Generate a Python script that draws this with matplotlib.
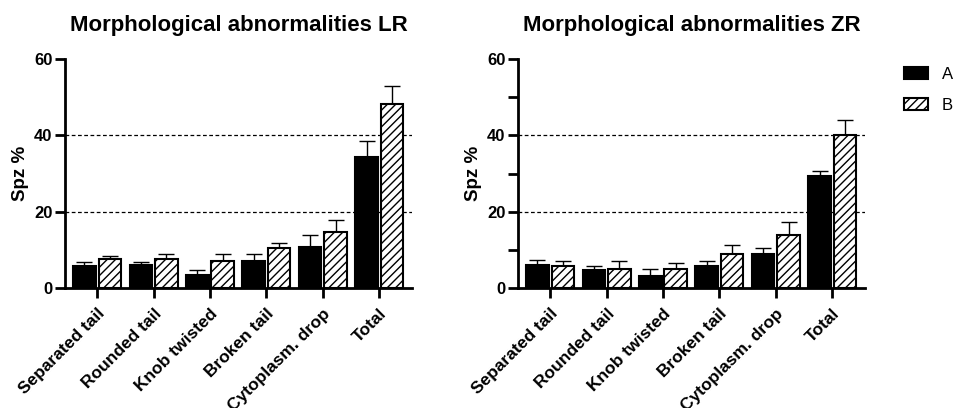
import matplotlib.pyplot as plt
import matplotlib.patches as mpatches
import numpy as np

plt.rcParams['font.family'] = ['Liberation Sans', 'DejaVu Sans']
plt.rcParams['hatch.linewidth'] = 1.0

categorias = ["Separated tail", "Rounded tail", "Knob twisted", "Broken tail",
              "Cytoplasm. drop", "Total"]

# Panel LR
lr_a = [5.7, 6.1, 3.4, 7.1, 10.8, 34.3]
lr_a_err = [1.1, 0.7, 1.3, 1.8, 3.0, 4.2]
lr_b = [7.5, 7.5, 7.1, 10.4, 14.7, 48.2]
lr_b_err = [0.9, 1.4, 1.8, 1.5, 3.1, 4.8]

# Panel ZR
zr_a = [6.1, 4.8, 3.1, 5.9, 8.9, 29.5]
zr_a_err = [1.3, 1.1, 1.9, 1.2, 1.6, 1.3]
zr_b = [5.7, 5.1, 5.1, 9.0, 13.8, 40.0]
zr_b_err = [1.4, 2.0, 1.5, 2.4, 3.4, 4.1]

titulos = ["Morphological abnormalities LR", "Morphological abnormalities ZR"]

fig = plt.figure(figsize=(9.57, 4.08), dpi=100)
ax1 = fig.add_axes([0.0679, 0.294, 0.3626, 0.561])
ax2 = fig.add_axes([0.5413, 0.294, 0.3626, 0.561])

x = np.arange(len(categorias))
ancho = 0.40
desp = 0.225

def panel(ax, a, a_err, b, b_err, titulo, menores):
    ax.bar(x - desp, a, ancho, color='black', edgecolor='black', linewidth=1.5, zorder=3)
    ax.bar(x + desp, b, ancho, color='white', edgecolor='black', linewidth=1.5,
           hatch='////', zorder=3)
    ax.errorbar(x - desp, a, yerr=[np.zeros(len(a)), a_err], fmt='none', ecolor='black',
                elinewidth=1, capsize=5.5, capthick=1, zorder=2)
    ax.errorbar(x + desp, b, yerr=[np.zeros(len(b)), b_err], fmt='none', ecolor='black',
                elinewidth=1, capsize=5.5, capthick=1, zorder=2)
    # lineas punteadas
    for g in [20, 40]:
        ax.axhline(g, color='black', linestyle=(0, (3, 2)), linewidth=0.9, zorder=1)
    ax.set_xlim(-0.57, 5.58)
    ax.set_ylim(0, 60)
    ax.set_yticks([0, 20, 40, 60])
    if menores:
        ax.set_yticks([10, 30, 50], minor=True)
    ax.set_xticks(x)
    ax.set_xticklabels(categorias, rotation=45, ha='right', rotation_mode='anchor',
                       fontsize=12.5, fontweight='bold')
    for lab in ax.get_yticklabels():
        lab.set_fontweight('bold')
        lab.set_fontsize(12)
    ax.tick_params(axis='both', which='both', width=2, length=7, direction='out')
    ax.tick_params(axis='x', pad=6)
    ax.tick_params(axis='y', pad=2)
    ax.spines['top'].set_visible(False)
    ax.spines['right'].set_visible(False)
    ax.spines['left'].set_linewidth(2)
    ax.spines['bottom'].set_linewidth(2)
    ax.set_ylabel("Spz %", fontsize=13.5, fontweight='bold', labelpad=3.5)
    ax.set_title(titulo, fontsize=16, fontweight='bold', pad=20)

panel(ax1, lr_a, lr_a_err, lr_b, lr_b_err, titulos[0], False)
panel(ax2, zr_a, zr_a_err, zr_b, zr_b_err, titulos[1], True)

h_a = mpatches.Patch(facecolor='black', edgecolor='black', linewidth=1.5, label='A')
h_b = mpatches.Patch(facecolor='white', edgecolor='black', linewidth=1.5, hatch='////', label='B')
fig.legend(handles=[h_a, h_b], loc='upper left', bbox_to_anchor=(904 / 957, 1 - 67 / 408),
           frameon=False, fontsize=12, handlelength=1.44, handleheight=0.72,
           handletextpad=0.84, labelspacing=0.97, borderpad=0, borderaxespad=0)

fig.savefig("out.png", dpi=100)
